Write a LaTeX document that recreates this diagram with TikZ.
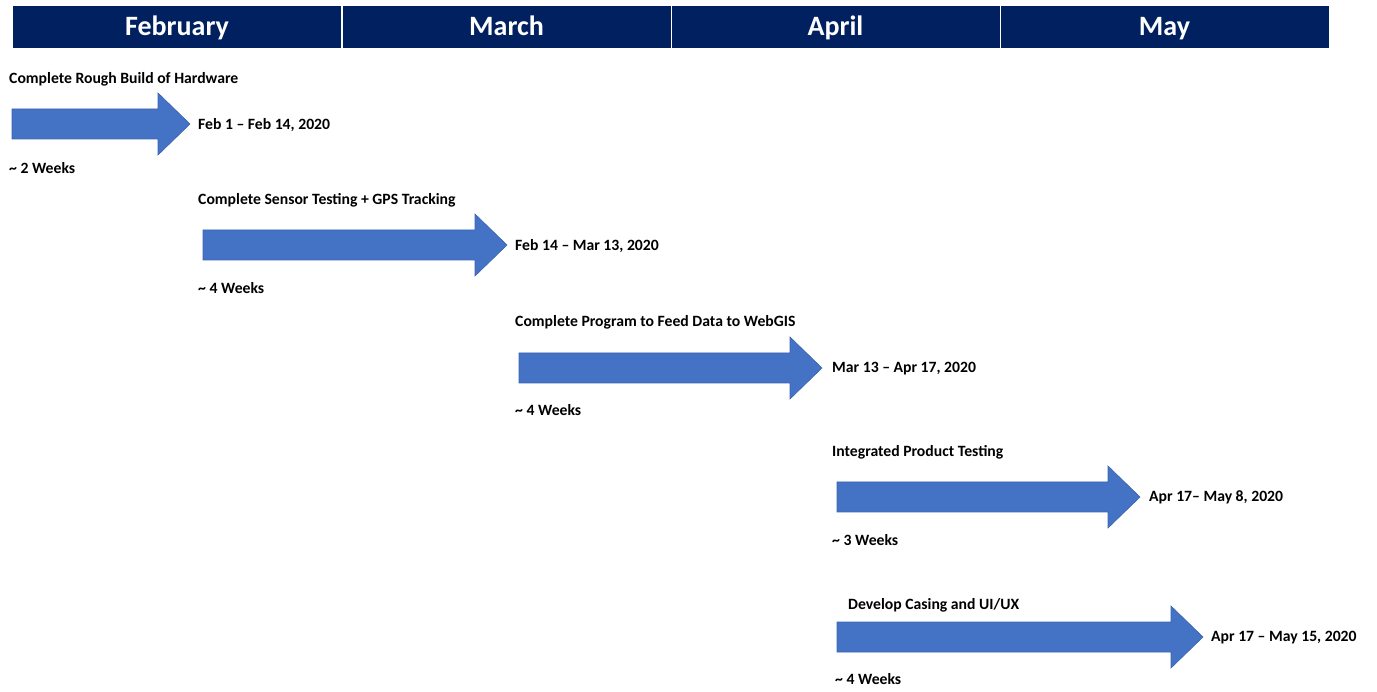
\documentclass[tikz,border=0pt]{standalone}
\usepackage{fontspec}
\setmainfont{Carlito}
\usetikzlibrary{positioning}
\definecolor{headnavy}{HTML}{002060}
\definecolor{barblue}{HTML}{4472C4}
\definecolor{barline}{HTML}{3A64B0}
\tikzstyle{month} = [fill=headnavy, text=white, font=\fontsize{28}{30}\selectfont\bfseries, minimum width=328pt, minimum height=42pt, inner sep=0pt, text height=18pt, text depth=0pt]
\tikzstyle{bar} = [fill=barblue, draw=barline, line width=0.6pt]
\tikzstyle{lbl} = [anchor=west, inner sep=0pt, font=\fontsize{15.7}{17}\selectfont\bfseries, text height=10pt, text depth=0pt]

\begin{document}
\begin{tikzpicture}[x=1pt,y=-1pt]
\useasboundingbox (0,0) rectangle (1377,692);
% month header
\node (feb) [month] at (177,27) {February};
\node (mar) [month] at (506.5,27) {March};
\node (apr) [month] at (835.5,27) {April};
\node (may) [month] at (1164.5,27) {May};
%
\fill [bar] (12,109) -- (158,109) -- (158,93) -- (190,124) -- (158,155) -- (158,139) -- (12,139) -- cycle;
\node (t1) [lbl] at (9,78.5) {Complete Rough Build of Hardware};
\node (d1) [lbl] at (198,124.5) {Feb 1 -- Feb 14, 2020};
\node (w1) [lbl] at (9,168.5) {\char"007E\ 2 Weeks};
%
\fill [bar] (203,230) -- (475,230) -- (475,214) -- (507,245) -- (475,276) -- (475,260) -- (203,260) -- cycle;
\node (t2) [lbl] at (198,200) {Complete Sensor Testing + GPS Tracking};
\node (d2) [lbl] at (515,245.5) {Feb 14 -- Mar 13, 2020};
\node (w2) [lbl] at (198,288.5) {\char"007E\ 4 Weeks};
%
\fill [bar] (519,353) -- (790,353) -- (790,337) -- (822,368) -- (790,399) -- (790,383) -- (519,383) -- cycle;
\node (t3) [lbl] at (515,321.5) {Complete Program to Feed Data to WebGIS};
\node (d3) [lbl] at (832,367.5) {Mar 13 -- Apr 17, 2020};
\node (w3) [lbl] at (515,410.5) {\char"007E\ 4 Weeks};
%
\fill [bar] (837,482) -- (1108,482) -- (1108,466) -- (1140,497) -- (1108,528) -- (1108,512) -- (837,512) -- cycle;
\node (t4) [lbl] at (832,451.5) {Integrated Product Testing};
\node (d4) [lbl] at (1149,496.5) {Apr 17-- May 8, 2020};
\node (w4) [lbl] at (832,540.5) {\char"007E\ 3 Weeks};
%
\fill [bar] (837,622) -- (1171,622) -- (1171,606) -- (1203,637) -- (1171,668) -- (1171,652) -- (837,652) -- cycle;
\node (t5) [lbl] at (848,604.5) {Develop Casing and UI/UX};
\node (d5) [lbl] at (1211,636.5) {Apr 17 -- May 15, 2020};
\node (w5) [lbl] at (835,679.5) {\char"007E\ 4 Weeks};
\end{tikzpicture}
\end{document}
